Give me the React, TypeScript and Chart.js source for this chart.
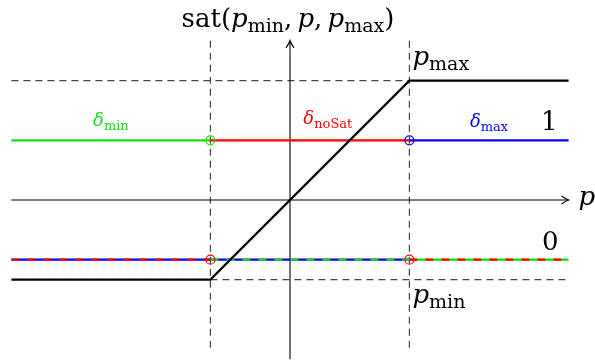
import React, { useEffect, useRef } from "react";
import { Chart, registerables } from "chart.js";

Chart.register(...registerables);

// Saturation thresholds on the p axis
const P_MIN = -2;
const P_MAX = 3;
// Drawn extent of the p axis and of the sat axis
const P_EXTENT = [-7, 7];
const SAT_EXTENT = [-4, 4];
// Heights at which the indicator values 1 and 0 are plotted
const LEVEL_ONE = 1.5;
const LEVEL_ZERO = -1.5;
// Vertical guide lines run between these heights
const GUIDE_SPAN = [4, -3.75];

// sat(p) = clamp(p, P_MIN, P_MAX), broken at its corners
const SAT_P = [P_EXTENT[0], P_MIN, P_MAX, P_EXTENT[1]];
const SAT_VALUE = [P_MIN, P_MIN, P_MAX, P_MAX];

// Visible window (one unit = 39.8 px, origin at 290,200)
const VIEW_X = [-7.2864, 7.6633];
const VIEW_Y = [-4.0452, 5.0251];

const GREEN = "#12e012";
const RED = "#ff0000";
const BLUE = "#0000ff";
const GUIDE = "#444444";
const INK = "#000000";

const SERIF = '"DejaVu Serif", serif';
const MAIN_SIZE = 26;
const GREEK_SIZE = 18;

type Run = { t: string; it?: boolean; sub?: boolean };
type Label = {
  runs: Run[];
  x: number;
  y: number;
  dx: number;
  dy: number;
  size: number;
  color: string;
  align: "left" | "center" | "right";
};

const pt = (x: number, y: number) => ({ x, y });

const LABELS: Label[] = [
  {
    runs: [
      { t: "sat(" },
      { t: "p", it: true },
      { t: "min", sub: true },
      { t: ",\u2009" },
      { t: "p", it: true },
      { t: ",\u2009" },
      { t: "p", it: true },
      { t: "max", sub: true },
      { t: ")" },
    ],
    x: 0, y: SAT_EXTENT[1], dx: -2, dy: -14, size: MAIN_SIZE, color: INK, align: "center",
  },
  { runs: [{ t: "p", it: true }, { t: "max", sub: true }], x: P_MAX, y: P_MAX, dx: 3, dy: -16, size: MAIN_SIZE, color: INK, align: "left" },
  { runs: [{ t: "p", it: true }, { t: "min", sub: true }], x: P_MAX, y: P_MIN, dx: 3, dy: 23, size: MAIN_SIZE, color: INK, align: "left" },
  { runs: [{ t: "1" }], x: P_EXTENT[1], y: LEVEL_ONE, dx: -11, dy: -10, size: MAIN_SIZE, color: INK, align: "right" },
  { runs: [{ t: "0" }], x: P_EXTENT[1], y: LEVEL_ZERO, dx: -10, dy: -10, size: MAIN_SIZE, color: INK, align: "right" },
  { runs: [{ t: "p", it: true }], x: P_EXTENT[1], y: 0, dx: 10, dy: 5, size: MAIN_SIZE, color: INK, align: "left" },
  { runs: [{ t: "δ", it: true }, { t: "min", sub: true }], x: -4.5, y: LEVEL_ONE, dx: 0, dy: -14, size: GREEK_SIZE, color: GREEN, align: "center" },
  { runs: [{ t: "δ", it: true }, { t: "noSat", sub: true }], x: 0.95, y: LEVEL_ONE, dx: 0, dy: -16, size: GREEK_SIZE, color: RED, align: "center" },
  { runs: [{ t: "δ", it: true }, { t: "max", sub: true }], x: 5, y: LEVEL_ONE, dx: 0, dy: -13, size: GREEK_SIZE, color: BLUE, align: "center" },
];

function runFont(r: Run, size: number) {
  const s = r.sub ? Math.round(size * 0.74) : size;
  return `${r.it ? "italic " : ""}${s}px ${SERIF}`;
}

function drawRuns(ctx: CanvasRenderingContext2D, l: Label, px: number, py: number) {
  let total = 0;
  for (const r of l.runs) {
    ctx.font = runFont(r, l.size);
    total += ctx.measureText(r.t).width;
  }
  let x = px + l.dx;
  if (l.align === "center") x -= total / 2;
  if (l.align === "right") x -= total;
  const base = py + l.dy;
  ctx.fillStyle = l.color;
  ctx.textBaseline = "alphabetic";
  ctx.textAlign = "left";
  for (const r of l.runs) {
    ctx.font = runFont(r, l.size);
    ctx.fillText(r.t, x, base + (r.sub ? l.size * 0.2 : 0));
    x += ctx.measureText(r.t).width;
  }
}

function arrowHead(ctx: CanvasRenderingContext2D, x: number, y: number, angle: number) {
  ctx.save();
  ctx.translate(x, y);
  ctx.rotate(angle);
  ctx.beginPath();
  ctx.moveTo(-7, -4);
  ctx.quadraticCurveTo(-2.5, -0.8, 0, 0);
  ctx.quadraticCurveTo(-2.5, 0.8, -7, 4);
  ctx.strokeStyle = INK;
  ctx.lineWidth = 1.2;
  ctx.stroke();
  ctx.restore();
}

const annotations = {
  id: "satAnnotations",
  afterDatasetsDraw(chart: Chart) {
    const ctx = chart.ctx;
    const xs = chart.scales.x;
    const ys = chart.scales.y;
    ctx.save();
    arrowHead(ctx, xs.getPixelForValue(P_EXTENT[1]), ys.getPixelForValue(0), 0);
    arrowHead(ctx, xs.getPixelForValue(0), ys.getPixelForValue(SAT_EXTENT[1]), -Math.PI / 2);
    for (const l of LABELS) {
      drawRuns(ctx, l, xs.getPixelForValue(l.x), ys.getPixelForValue(l.y));
    }
    ctx.restore();
  },
};

function segment(points: { x: number; y: number }[], color: string, width: number, order: number, dash: number[] = []) {
  return {
    data: points,
    showLine: true,
    borderColor: color,
    borderWidth: width,
    borderDash: dash,
    pointRadius: 0,
    fill: false,
    order,
  };
}

export default function App() {
  const ref = useRef<HTMLCanvasElement>(null);

  useEffect(() => {
    const satCurve = SAT_P.map((p, i) => pt(p, SAT_VALUE[i]));
    const dash = [8, 8];
    const guideDash = [7, 5];
    const datasets: any[] = [
      // guide lines
      segment([pt(P_MIN, GUIDE_SPAN[0]), pt(P_MIN, GUIDE_SPAN[1])], GUIDE, 1.2, 50, guideDash),
      segment([pt(P_MAX, GUIDE_SPAN[0]), pt(P_MAX, GUIDE_SPAN[1])], GUIDE, 1.2, 50, guideDash),
      segment([pt(P_EXTENT[0], P_MAX), pt(P_MAX, P_MAX)], GUIDE, 1.2, 50, guideDash),
      segment([pt(P_MIN, P_MIN), pt(P_EXTENT[1], P_MIN)], GUIDE, 1.2, 50, guideDash),
      // axes
      segment([pt(P_EXTENT[0], 0), pt(P_EXTENT[1], 0)], INK, 1.1, 40),
      segment([pt(0, SAT_EXTENT[0]), pt(0, SAT_EXTENT[1])], INK, 1.1, 40),
      // indicator value 1
      segment([pt(P_EXTENT[0], LEVEL_ONE), pt(P_MIN, LEVEL_ONE)], GREEN, 2.2, 30),
      segment([pt(P_MIN, LEVEL_ONE), pt(P_MAX, LEVEL_ONE)], RED, 2.2, 30),
      segment([pt(P_MAX, LEVEL_ONE), pt(P_EXTENT[1], LEVEL_ONE)], BLUE, 2.2, 30),
      // indicator value 0 (two indicators share each stretch)
      segment([pt(P_EXTENT[0], LEVEL_ZERO), pt(P_MIN, LEVEL_ZERO)], BLUE, 2.2, 30),
      segment([pt(P_EXTENT[0], LEVEL_ZERO), pt(P_MIN, LEVEL_ZERO)], RED, 2.2, 29, dash),
      segment([pt(P_MIN, LEVEL_ZERO), pt(P_MAX, LEVEL_ZERO)], BLUE, 2.2, 30),
      segment([pt(P_MIN, LEVEL_ZERO), pt(P_MAX, LEVEL_ZERO)], GREEN, 2.2, 29, dash),
      segment([pt(P_MAX, LEVEL_ZERO), pt(P_EXTENT[1], LEVEL_ZERO)], GREEN, 2.2, 30),
      segment([pt(P_MAX, LEVEL_ZERO), pt(P_EXTENT[1], LEVEL_ZERO)], RED, 2.2, 29, dash),
      // saturation function
      segment(satCurve, INK, 2.2, 10),
      // jump markers
      {
        data: [pt(P_MIN, LEVEL_ONE), pt(P_MAX, LEVEL_ONE), pt(P_MIN, LEVEL_ZERO), pt(P_MAX, LEVEL_ZERO)],
        showLine: false,
        pointRadius: 4.5,
        pointBorderWidth: 1.2,
        pointBackgroundColor: "rgba(0,0,0,0)",
        pointBorderColor: [GREEN, BLUE, RED, RED],
        order: 0,
      },
    ];

    const chart = new Chart(ref.current!, {
      type: "scatter",
      data: { datasets },
      options: {
        animation: false,
        responsive: false,
        events: [],
        layout: { padding: 0, autoPadding: false },
        plugins: { legend: { display: false }, tooltip: { enabled: false }, title: { display: false } },
        scales: {
          x: { type: "linear", display: false, min: VIEW_X[0], max: VIEW_X[1] },
          y: { type: "linear", display: false, min: VIEW_Y[0], max: VIEW_Y[1] },
        },
      },
      plugins: [annotations],
    });
    return () => chart.destroy();
  }, []);

  return (
    <div style={{ position: "absolute", left: 0, top: 0, width: 595, height: 361, background: "#fff" }}>
      <canvas ref={ref} width={595} height={361} style={{ display: "block" }} />
    </div>
  );
}
